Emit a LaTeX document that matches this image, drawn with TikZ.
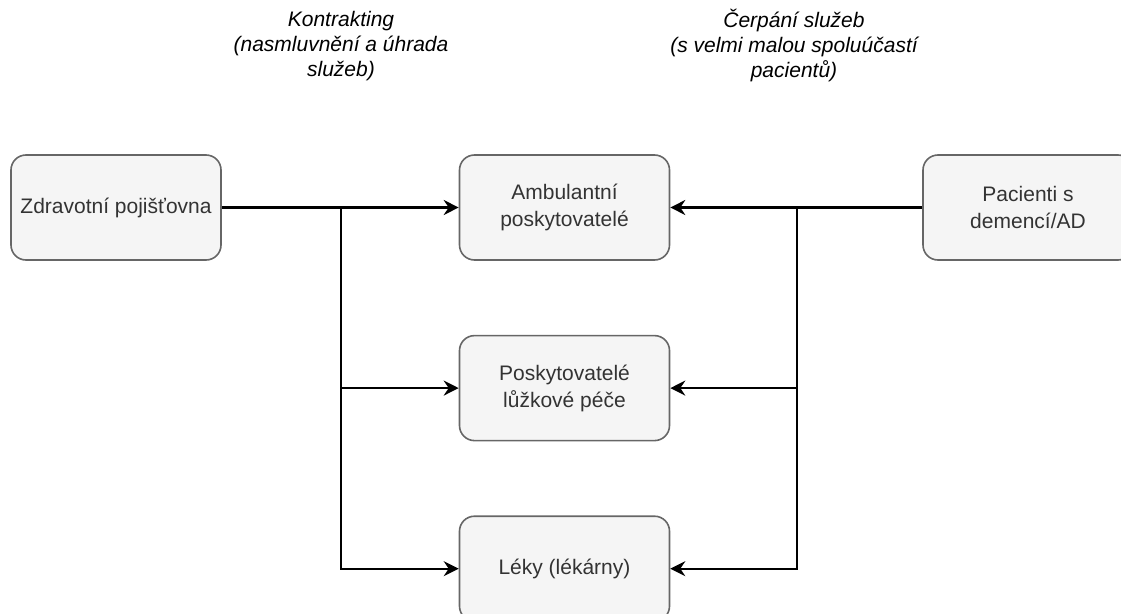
\documentclass[tikz,border=0pt]{standalone}
\usepackage{fontspec}
\setmainfont{Liberation Sans}
\usetikzlibrary{arrows.meta,positioning}
\definecolor{boxfill}{HTML}{F5F5F5}
\definecolor{boxline}{HTML}{666666}
\definecolor{boxtext}{HTML}{333333}
\tikzset{
  blk/.style={draw=boxline, fill=boxfill, line width=1.6pt, rounded corners=15pt,
              minimum width=210pt, minimum height=105pt, align=center, text=boxtext,
              font=\fontsize{21}{27}\selectfont},
  flowarr/.style={-{Stealth[length=15pt,width=15pt,inset=5pt]}, line width=2.2pt},
  lbl/.style={font=\fontsize{21}{25}\selectfont\itshape, align=center},
}

\begin{document}
\begin{tikzpicture}[x=1pt, y=-1pt]
  \useasboundingbox (0,0) rectangle (1121,613);
  % boxes
  \node[blk] (zp) at (116,207.5) {Zdravotní pojišťovna};
  \node[blk] (amb) at (564.5,207.5) {Ambulantní\\poskytovatelé};
  \node[blk, below=74pt of amb] (lpp) {Poskytovatelé\\lůžkové péče};
  \node[blk, below=74pt of lpp] (lek) {Léky (lékárny)};
  \node[blk] (pac) at (1028,207.5) {Pacienti s\\demencí/AD};
  % captions
  \node[lbl] (kon) at (341,46) {Kontrakting\\(nasmluvnění a úhrada\\služeb)};
  \node[lbl] (cer) at (794,46) {Čerpání služeb\\(s velmi malou spoluúčastí\\pacientů)};
  % branch points
  \coordinate (jl) at (341,207.5);
  \coordinate (jr) at (797,207.5);
  \draw[flowarr] (zp) -- (amb);
  \draw[flowarr] (jl) |- (lpp);
  \draw[flowarr] (jl) |- (lek);
  \draw[flowarr] (pac) -- (amb);
  \draw[flowarr] (jr) |- (lpp);
  \draw[flowarr] (jr) |- (lek);
\end{tikzpicture}
\end{document}
